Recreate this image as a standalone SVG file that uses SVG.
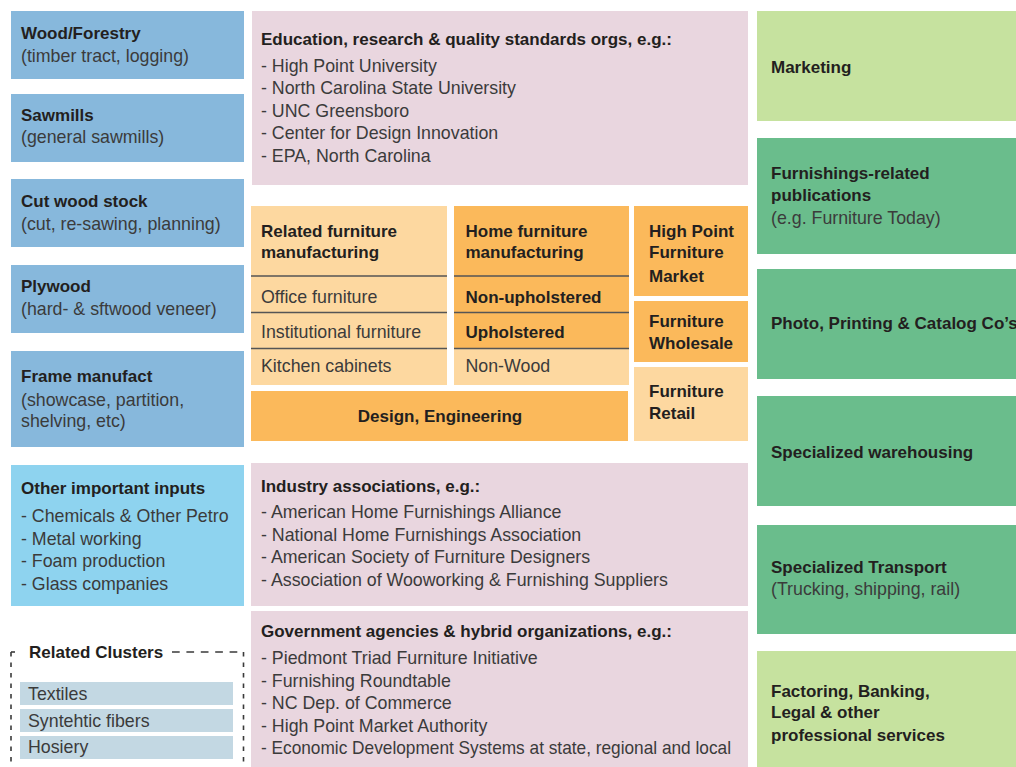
<svg xmlns="http://www.w3.org/2000/svg" width="1016" height="767" viewBox="0 0 1016 767">
  <style>
    .b { font-family: "Liberation Sans", Arial, sans-serif; font-weight: bold; font-size: 17px; fill: #231f20; }
    .r { font-family: "Liberation Sans", Arial, sans-serif; font-size: 17.8px; fill: #3b3b3b; }
    .mid { text-anchor: middle; }
    .wood { fill: #87b8dc; }
    .inputs { fill: #8ed3ef; }
    .org { fill: #e9d6df; }
    .lo { fill: #fdd8a0; }
    .do { fill: #fbb95b; }
    .lg { fill: #c6e29f; }
    .mg { fill: #6abd8c; }
    .cl { fill: #c3d8e3; }
    .sep { stroke: #555555; stroke-width: 1.5; }
    .dash { fill: none; stroke: #3a3a3a; stroke-width: 1.6; }
  </style>

  <rect width="1016" height="767" fill="#ffffff"/>

  <!-- Supplier column -->
  <g id="wood-forestry">
    <rect class="wood" x="11" y="11" width="233" height="68"/>
    <text class="b" x="21" y="39">Wood/Forestry</text>
    <text class="r" x="21" y="61.5">(timber tract, logging)</text>
  </g>
  <g id="sawmills">
    <rect class="wood" x="11" y="94" width="233" height="68"/>
    <text class="b" x="21" y="120.7">Sawmills</text>
    <text class="r" x="21" y="143.3">(general sawmills)</text>
  </g>
  <g id="cut-wood-stock">
    <rect class="wood" x="11" y="179" width="233" height="68"/>
    <text class="b" x="21" y="206.7">Cut wood stock</text>
    <text class="r" x="21" y="230">(cut, re-sawing, planning)</text>
  </g>
  <g id="plywood">
    <rect class="wood" x="11" y="265" width="233" height="68"/>
    <text class="b" x="21" y="292.3">Plywood</text>
    <text class="r" x="21" y="315">(hard- &amp; sftwood veneer)</text>
  </g>
  <g id="frame-manufact">
    <rect class="wood" x="11" y="351" width="233" height="96"/>
    <text class="b" x="21" y="382.3">Frame manufact</text>
    <text class="r" x="21" y="405.7">(showcase, partition,</text>
    <text class="r" x="21" y="427.3">shelving, etc)</text>
  </g>
  <g id="other-inputs">
    <rect class="inputs" x="11" y="465" width="233" height="141"/>
    <text class="b" x="21" y="494.3">Other important inputs</text>
    <text class="r" x="21" y="522.3">- Chemicals &amp; Other Petro</text>
    <text class="r" x="21" y="545">- Metal working</text>
    <text class="r" x="21" y="567">- Foam production</text>
    <text class="r" x="21" y="589.5">- Glass companies</text>
  </g>

  <!-- Related clusters frame -->
  <g id="related-clusters">
    <path class="dash" d="M15 652 H11"/>
    <path class="dash" d="M11 652 V767" stroke-dasharray="4.5 6"/>
    <path class="dash" d="M172 652 H243.5" stroke-dasharray="7.7 6.7"/>
    <path class="dash" d="M243.5 652 V767" stroke-dasharray="4.5 6"/>
    <text class="b" x="29" y="658.3">Related Clusters</text>
    <rect class="cl" x="20" y="682" width="213" height="23"/>
    <text class="r" x="28" y="700.3">Textiles</text>
    <rect class="cl" x="20" y="709" width="213" height="23"/>
    <text class="r" x="28" y="726.7">Syntehtic fibers</text>
    <rect class="cl" x="20" y="736" width="213" height="23"/>
    <text class="r" x="28" y="752.7">Hosiery</text>
  </g>

  <!-- Institutions -->
  <g id="education">
    <rect class="org" x="252" y="11" width="496" height="174"/>
    <text class="b" x="261" y="45">Education, research &amp; quality standards orgs, e.g.:</text>
    <text class="r" x="261" y="71.7">- High Point University</text>
    <text class="r" x="261" y="94.3">- North Carolina State University</text>
    <text class="r" x="261" y="116.7">- UNC Greensboro</text>
    <text class="r" x="261" y="139">- Center for Design Innovation</text>
    <text class="r" x="261" y="161.7">- EPA, North Carolina</text>
  </g>
  <g id="industry-associations">
    <rect class="org" x="251" y="463" width="497" height="143"/>
    <text class="b" x="261" y="491.7">Industry associations, e.g.:</text>
    <text class="r" x="261" y="518.3">- American Home Furnishings Alliance</text>
    <text class="r" x="261" y="541">- National Home Furnishings Association</text>
    <text class="r" x="261" y="563.3">- American Society of Furniture Designers</text>
    <text class="r" x="261" y="586">- Association of Wooworking &amp; Furnishing Suppliers</text>
  </g>
  <g id="government">
    <rect class="org" x="251" y="611" width="497" height="156"/>
    <text class="b" x="261" y="637.3">Government agencies &amp; hybrid organizations, e.g.:</text>
    <text class="r" x="261" y="664">- Piedmont Triad Furniture Initiative</text>
    <text class="r" x="261" y="686.5">- Furnishing Roundtable</text>
    <text class="r" x="261" y="709">- NC Dep. of Commerce</text>
    <text class="r" x="261" y="731.5">- High Point Market Authority</text>
    <text class="r" x="261" y="754" textLength="470" lengthAdjust="spacingAndGlyphs">- Economic Development Systems at state, regional and local</text>
  </g>

  <!-- Core manufacturing -->
  <g id="related-manufacturing">
    <rect class="lo" x="251" y="206" width="196" height="179"/>
    <line class="sep" x1="251" y1="276" x2="447" y2="276"/>
    <line class="sep" x1="251" y1="312.5" x2="447" y2="312.5"/>
    <line class="sep" x1="251" y1="348.5" x2="447" y2="348.5"/>
    <text class="b" x="261" y="236.7">Related furniture</text>
    <text class="b" x="261" y="258.3">manufacturing</text>
    <text class="r" x="261" y="303.3">Office furniture</text>
    <text class="r" x="261" y="337.7">Institutional furniture</text>
    <text class="r" x="261" y="372.3">Kitchen cabinets</text>
  </g>
  <g id="home-manufacturing">
    <rect class="do" x="454" y="206" width="175" height="142.5"/>
    <rect class="lo" x="454" y="348.5" width="175" height="36.5"/>
    <line class="sep" x1="454" y1="276" x2="629" y2="276"/>
    <line class="sep" x1="454" y1="312.5" x2="629" y2="312.5"/>
    <line class="sep" x1="454" y1="348.5" x2="629" y2="348.5"/>
    <text class="b" x="465.5" y="236.7">Home furniture</text>
    <text class="b" x="465.5" y="258.3">manufacturing</text>
    <text class="b" x="465.5" y="303.3">Non-upholstered</text>
    <text class="b" x="465.5" y="337.7">Upholstered</text>
    <text class="r" x="465.5" y="372.3">Non-Wood</text>
  </g>
  <g id="design-engineering">
    <rect class="do" x="251" y="391" width="377" height="50"/>
    <text class="b mid" x="440" y="421.7">Design, Engineering</text>
  </g>
  <g id="furniture-market">
    <rect class="do" x="634" y="206" width="114" height="90"/>
    <text class="b" x="649" y="236.7">High Point</text>
    <text class="b" x="649" y="258.3">Furniture</text>
    <text class="b" x="649" y="281.7">Market</text>
  </g>
  <g id="furniture-wholesale">
    <rect class="do" x="634" y="301" width="114" height="61"/>
    <text class="b" x="649" y="327.3">Furniture</text>
    <text class="b" x="649" y="349.3">Wholesale</text>
  </g>
  <g id="furniture-retail">
    <rect class="lo" x="634" y="367" width="114" height="74"/>
    <text class="b" x="649" y="397.3">Furniture</text>
    <text class="b" x="649" y="419.3">Retail</text>
  </g>

  <!-- Services column -->
  <g id="marketing">
    <rect class="lg" x="757" y="11" width="259" height="110"/>
    <text class="b" x="771" y="72.7">Marketing</text>
  </g>
  <g id="publications">
    <rect class="mg" x="757" y="138" width="259" height="116"/>
    <text class="b" x="771" y="178.7">Furnishings-related</text>
    <text class="b" x="771" y="201">publications</text>
    <text class="r" x="771" y="224">(e.g. Furniture Today)</text>
  </g>
  <g id="printing">
    <rect class="mg" x="757" y="269" width="259" height="110"/>
    <text class="b" x="771" y="328.7">Photo, Printing &amp; Catalog Co’s</text>
  </g>
  <g id="warehousing">
    <rect class="mg" x="757" y="396" width="259" height="110"/>
    <text class="b" x="771" y="457.7">Specialized warehousing</text>
  </g>
  <g id="transport">
    <rect class="mg" x="757" y="525" width="259" height="109"/>
    <text class="b" x="771" y="573.3">Specialized Transport</text>
    <text class="r" x="771" y="595">(Trucking, shipping, rail)</text>
  </g>
  <g id="financial-services">
    <rect class="lg" x="757" y="651" width="259" height="116"/>
    <text class="b" x="771" y="696.7">Factoring, Banking,</text>
    <text class="b" x="771" y="718.3">Legal &amp; other</text>
    <text class="b" x="771" y="740.7">professional services</text>
  </g>

  <!-- No linking lines in this cluster map -->
  <g id="connectors"/>
</svg>
